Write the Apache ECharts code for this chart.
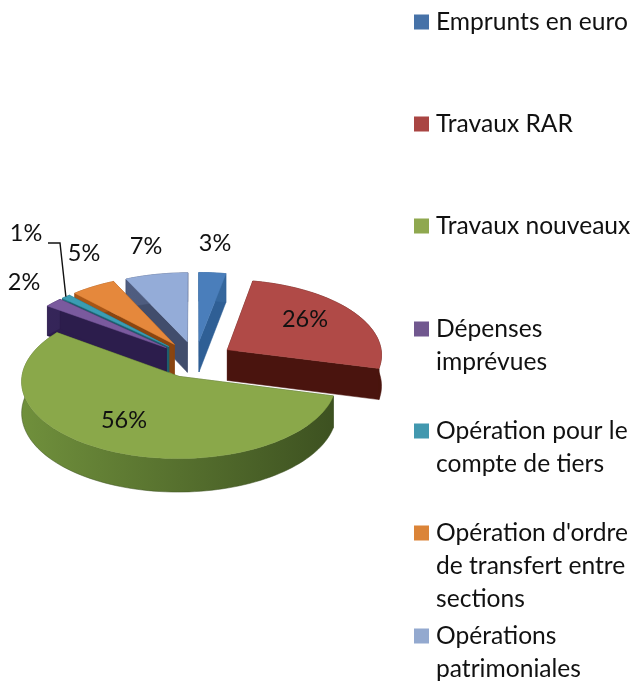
<!DOCTYPE html>
<html><head><meta charset="utf-8">
<style>html,body{margin:0;padding:0;background:#fff}#c{width:635px;height:681px}</style>
<script src="https://cdn.jsdelivr.net/npm/echarts@6/dist/echarts.min.js"></script>
</head><body><div id="c"></div>
<script>
const categories = ["Emprunts en euro","Travaux RAR","Travaux nouveaux","Dépenses imprévues","Opération pour le compte de tiers","Opération d'ordre de transfert entre sections","Opérations patrimoniales"];
const values = [3,26,56,2,1,5,7];
const legendLines = [["Emprunts en euro"],["Travaux RAR"],["Travaux nouveaux"],["Dépenses","imprévues"],["Opération pour le","compte de tiers"],["Opération d'ordre","de transfert entre","sections"],["Opérations","patrimoniales"]];
const legendSwatchY = [22,124,226,329,431,533,636];
const topColors = ["#4a7ebb","#b04a47","#8aa84a","#7a5a9e","#3a9db3","#e5883c","#94acd8"];
const legendColors = ["#4672a8","#a94543","#8fa84f","#71588f","#4298af","#db8438","#93a9cf"];
const wallLight = ["#3f74ab","#5f1f18","#70903c","#36265a","#257585","#b05a18","#56658a"];
const wallDark = ["#2f5f95","#4a140e","#3c5020","#2c1d4c","#1d5f6e","#8a4510","#414d6c"];
const labelAt = [[215,243],[305,319],[124,420],[24,282],[26,233],[84,253],[146,246]];
const drawOrder = [0,6,5,4,3,1,2];

const cx=195.5, cy=359.5, R=155, tilt=0.485, explode=38, depth=31, persp=0.06, rad=Math.PI/180;
const total = values.reduce((a,b)=>a+b,0);
function project(X,Y,Z){const s=1/(1-persp*Y/R);return [cx+X*s, cy+Y*tilt*s+Z*s];}
function onDisc(ox,oy,deg,r){return [ox+r*Math.sin(deg*rad), oy-r*Math.cos(deg*rad)];}

function makeRender(i){
  return function(params,api){
    const v=api.value(0);
    let before=0; for(let k=0;k<i;k++) before+=values[k];
    const a0=before/total*360, a1=a0+v/total*360, mid=(a0+a1)/2;
    const [ox,oy]=onDisc(0,0,mid,explode);
    const arc=[]; const n=Math.max(3,Math.ceil((a1-a0)/2));
    for(let k=0;k<=n;k++) arc.push(onDisc(ox,oy,a0+(a1-a0)*k/n,R));
    const ap=p=>project(p[0],p[1],0), bp=p=>project(p[0],p[1],depth);
    const apex=[ox,oy];
    const fill=function(p){return {type:'polygon',shape:{points:p},style:{fill:wallDark[i],stroke:wallDark[i],lineWidth:0.5}};};
    const kids=[];
    kids.push(fill([ap(apex),ap(arc[0]),bp(arc[0]),bp(apex)]));
    kids.push(fill([ap(apex),ap(arc[n]),bp(arc[n]),bp(apex)]));
    const wall=arc.map(ap).concat(arc.slice().reverse().map(bp));
    kids.push({type:'polygon',shape:{points:wall},style:{
      fill:{type:'linear',x:20,y:0,x2:340,y2:0,global:true,colorStops:[{offset:0,color:wallLight[i]},{offset:1,color:wallDark[i]}]},
      stroke:wallDark[i],lineWidth:0.5}});
    kids.push({type:'polygon',shape:{points:[ap(apex)].concat(arc.map(ap))},style:{fill:topColors[i],stroke:topColors[i],lineWidth:0.5}});
    const at=labelAt[i];
    if(i===4){
      const e=ap(onDisc(ox,oy,mid,R));
      kids.push({type:'polyline',shape:{points:[[48,243],[60,243],[e[0],e[1]]]},style:{fill:null,stroke:'#111',lineWidth:1.4}});
    }
    kids.push({type:'text',z2:50,style:{x:at[0],y:at[1],text:v+'%',fill:'#111',font:'23.5px Lato',align:'center',verticalAlign:'middle'}});
    return {type:'group',children:kids};
  };
}

const LH=33;
const legends=categories.map((name,i)=>{
  const n=legendLines[i].length;
  const h=LH*(2*n-1);
  return {data:[name],left:414,top:legendSwatchY[i]-h/2,orient:'vertical',padding:0,itemWidth:17,itemHeight:15,icon:'path://M0 0H15V15H0Z M17 15Z',selectedMode:false,
    formatter:()=>'\n'.repeat(n-1)+legendLines[i].join('\n'),
    textStyle:{fontFamily:'Lato',fontSize:24.6,color:'#111',lineHeight:LH}};
});
const series=categories.map((name,i)=>({
  type:'custom',name,coordinateSystem:'none',silent:true,animation:false,z:2+drawOrder.indexOf(i),
  itemStyle:{color:legendColors[i]},data:[[values[i]]],renderItem:makeRender(i),encode:{value:0}
}));
const chart=echarts.init(document.getElementById('c'),null,{renderer:'canvas'});
chart.setOption({animation:false,backgroundColor:'#fff',legend:legends,series});
</script></body></html>
